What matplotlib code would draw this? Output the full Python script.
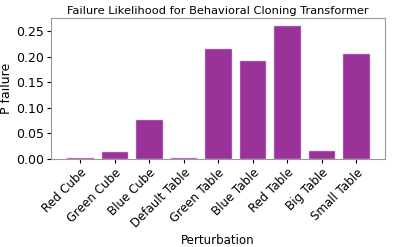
import matplotlib
matplotlib.use("Agg")
import matplotlib.pyplot as plt
import numpy as np

categories = ["Red Cube", "Green Cube", "Blue Cube", "Default Table", "Green Table",
              "Blue Table", "Red Table", "Big Table", "Small Table"]
p_failure = [0.004, 0.016, 0.079, 0.005, 0.217, 0.193, 0.262, 0.018, 0.206]
yticks = [0.00, 0.05, 0.10, 0.15, 0.20, 0.25]

fig, ax = plt.subplots(figsize=(3.99, 2.47), dpi=100)
ax.bar(categories, p_failure, color="purple", alpha=0.8, edgecolor="white", linewidth=1)
ax.set_title("Failure Likelihood for Behavioral Cloning Transformer", fontsize=8.2, pad=3)
ax.set_ylabel("P failure", fontsize=9, labelpad=2)
ax.set_xlabel("Perturbation", fontsize=8.5, labelpad=3)
ax.set_yticks(yticks)
ax.set_yticklabels([f"{v:.2f}" for v in yticks])
ax.tick_params(axis="y", labelsize=9, length=3, pad=2)
ax.tick_params(axis="x", labelsize=8.5, length=3, pad=2)
plt.setp(ax.get_xticklabels(), rotation=45, ha="right", rotation_mode="anchor")
for s in ax.spines.values():
    s.set_color("#999999")
fig.subplots_adjust(left=0.128, right=0.965, top=0.927, bottom=0.356)
fig.savefig("out.png", dpi=100)
